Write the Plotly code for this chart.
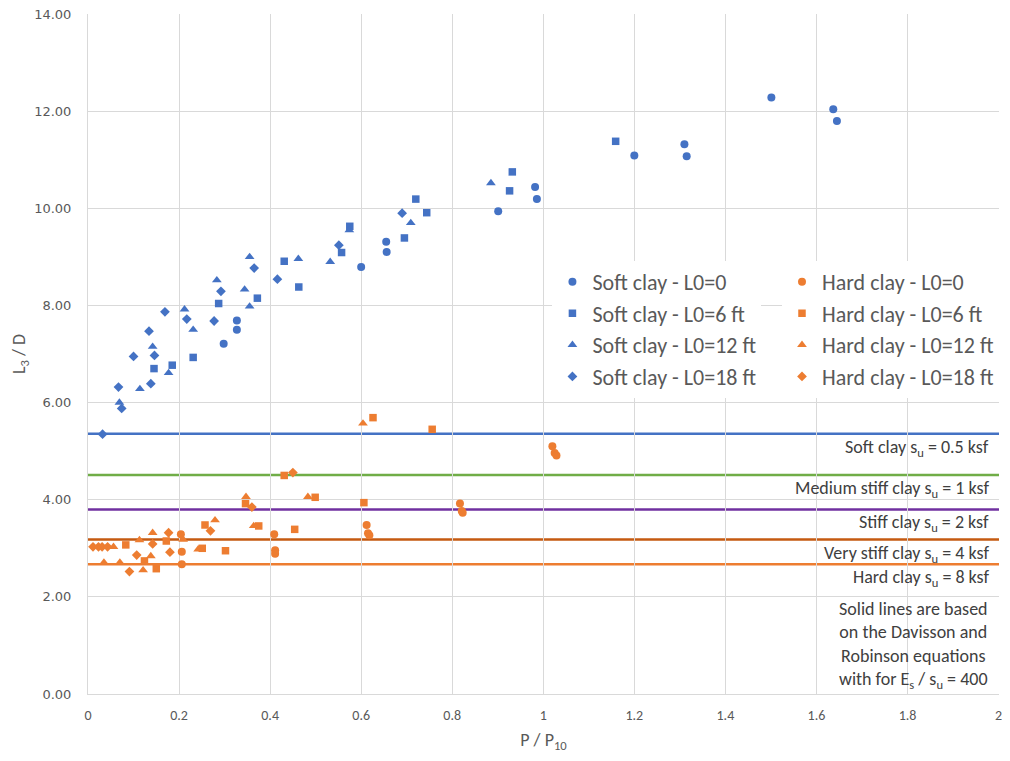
import plotly.graph_objects as go

# ---------------- data ----------------
soft_l0_x = [0.298, 0.327, 0.327, 0.600, 0.655, 0.656, 0.901, 0.982, 0.986, 1.200, 1.310, 1.315, 1.501, 1.637, 1.645]
soft_l0_y = [7.21, 7.69, 7.50, 8.79, 9.31, 9.10, 9.94, 10.44, 10.19, 11.09, 11.32, 11.07, 12.28, 12.04, 11.80]

soft_l6_x = [0.145, 0.185, 0.231, 0.287, 0.372, 0.431, 0.463, 0.557, 0.575, 0.695, 0.720, 0.744, 0.926, 0.932, 1.159]
soft_l6_y = [6.70, 6.77, 6.93, 8.04, 8.15, 8.91, 8.38, 9.09, 9.63, 9.39, 10.19, 9.91, 10.36, 10.75, 11.38]

soft_l12_x = [0.069, 0.114, 0.142, 0.177, 0.212, 0.231, 0.283, 0.344, 0.355, 0.355, 0.462, 0.532, 0.574, 0.709, 0.885]
soft_l12_y = [6.00, 6.28, 7.15, 6.61, 7.92, 7.50, 8.52, 8.33, 7.98, 9.00, 8.96, 8.90, 9.55, 9.70, 10.52]

soft_l18_x = [0.032, 0.074, 0.067, 0.138, 0.100, 0.146, 0.134, 0.169, 0.217, 0.277, 0.292, 0.365, 0.416, 0.551, 0.690]
soft_l18_y = [5.35, 5.88, 6.32, 6.39, 6.95, 6.97, 7.47, 7.87, 7.72, 7.68, 8.29, 8.77, 8.54, 9.24, 9.90]

hard_l0_x = [0.204, 0.206, 0.206, 0.409, 0.411, 0.411, 0.612, 0.615, 0.618, 0.817, 0.821, 0.823, 1.020, 1.025, 1.029]
hard_l0_y = [3.29, 2.93, 2.67, 3.29, 2.96, 2.89, 3.48, 3.31, 3.27, 3.92, 3.77, 3.73, 5.10, 4.96, 4.91]

hard_l6_x = [0.083, 0.124, 0.150, 0.172, 0.251, 0.257, 0.302, 0.346, 0.375, 0.431, 0.454, 0.499, 0.606, 0.626, 0.756]
hard_l6_y = [3.07, 2.74, 2.58, 3.15, 3.00, 3.48, 2.95, 3.92, 3.46, 4.50, 3.39, 4.05, 3.94, 5.69, 5.45]

hard_l12_x = [0.056, 0.035, 0.070, 0.113, 0.121, 0.138, 0.142, 0.209, 0.242, 0.279, 0.347, 0.364, 0.483, 0.604]
hard_l12_y = [3.03, 2.71, 2.71, 3.17, 2.55, 2.84, 3.32, 3.18, 2.98, 3.58, 4.06, 3.46, 4.06, 5.57]

hard_l18_x = [0.011, 0.023, 0.031, 0.043, 0.091, 0.107, 0.142, 0.177, 0.180, 0.269, 0.360, 0.450]
hard_l18_y = [3.03, 3.03, 3.03, 3.03, 2.52, 2.86, 3.09, 3.32, 2.92, 3.36, 3.85, 4.56]

level_values = [5.36, 4.51, 3.80, 3.18, 2.67]
level_colors = ["#4472C4", "#70AD47", "#7030A0", "#C55A11", "#ED7D31"]
level_labels = [
    "Soft clay s<sub>u</sub> = 0.5 ksf",
    "Medium stiff clay s<sub>u</sub> = 1 ksf",
    "Stiff clay s<sub>u</sub> = 2 ksf",
    "Very stiff clay s<sub>u</sub> = 4 ksf",
    "Hard clay s<sub>u</sub> = 8 ksf",
]
note_text = ("Solid lines are based<br>on the Davisson and<br>Robinson equations<br>"
             "with for E<sub>s</sub> / s<sub>u</sub> = 400")

x_ticks = [0, 0.2, 0.4, 0.6, 0.8, 1, 1.2, 1.4, 1.6, 1.8, 2]
x_tick_text = ["0", "0.2", "0.4", "0.6", "0.8", "1", "1.2", "1.4", "1.6", "1.8", "2"]

BLUE = "#4472C4"
ORANGE = "#ED7D31"
FONT = "Carlito, 'Liberation Sans Narrow', Roboto, sans-serif"

series = [
    ("Soft clay - L0=0", soft_l0_x, soft_l0_y, BLUE, "circle", 8, "legend"),
    ("Soft clay - L0=6 ft", soft_l6_x, soft_l6_y, BLUE, "square", 7.5, "legend"),
    ("Soft clay - L0=12 ft", soft_l12_x, soft_l12_y, BLUE, "triangle-up", 8.5, "legend"),
    ("Soft clay - L0=18 ft", soft_l18_x, soft_l18_y, BLUE, "diamond", 7.5, "legend"),
    ("Hard clay - L0=0", hard_l0_x, hard_l0_y, ORANGE, "circle", 8, "legend2"),
    ("Hard clay - L0=6 ft", hard_l6_x, hard_l6_y, ORANGE, "square", 7.5, "legend2"),
    ("Hard clay - L0=12 ft", hard_l12_x, hard_l12_y, ORANGE, "triangle-up", 8.5, "legend2"),
    ("Hard clay - L0=18 ft", hard_l18_x, hard_l18_y, ORANGE, "diamond", 7.5, "legend2"),
]

fig = go.Figure()

for v, c in zip(level_values, level_colors):
    fig.add_hline(y=v, line=dict(color=c, width=2.5), layer="below")

for name, xs, ys, col, sym, sz, lg in series:
    fig.add_trace(go.Scatter(
        x=xs, y=ys, mode="markers", name=name, legend=lg,
        marker=dict(color=col, symbol=sym, size=sz, line=dict(width=0)),
    ))

for v, lab in zip(level_values, level_labels):
    fig.add_annotation(
        x=1, xref="paper", y=v, yref="y", text=lab, showarrow=False,
        xanchor="right", yanchor="middle", xshift=-8, yshift=-14,
        font=dict(family=FONT, size=18, color="#404040"),
    )

fig.add_annotation(
    x=1, xref="paper", y=0, yref="paper", text=note_text, showarrow=False,
    xanchor="right", yanchor="bottom", align="center", xshift=-9, yshift=0,
    font=dict(family=FONT, size=18, color="#404040"),
)

legend_common = dict(
    bgcolor="white", borderwidth=0, yanchor="top", xanchor="left",
    font=dict(family=FONT, size=22, color="#595959"),
    tracegroupgap=0, itemsizing="trace", traceorder="normal",
)

# page body has an 8px default margin: figure is sized/offset to compensate
fig.update_layout(
    width=1002, height=745,
    margin=dict(l=80, r=11, t=6, b=59),
    paper_bgcolor="white", plot_bgcolor="white",
    font=dict(family=FONT, color="#595959"),
    showlegend=True,
    legend=dict(x=0.5098, y=0.637, **legend_common),
    legend2=dict(x=0.7618, y=0.637, **legend_common),
    xaxis=dict(
        range=[0, 2.001], tickvals=x_ticks, ticktext=x_tick_text,
        showgrid=True, gridcolor="#D9D9D9", gridwidth=1,
        zeroline=False, showline=True, linecolor="#D9D9D9", mirror=False,
        ticks="", automargin=False, ticklabelstandoff=8, ticklabeloverflow="allow",
        tickfont=dict(family=FONT, size=14, color="#595959"),
        title=dict(text="P / P<sub>10</sub>", font=dict(family=FONT, size=18, color="#595959"), standoff=11),
    ),
    yaxis=dict(
        range=[0, 14.001], dtick=2, tickformat=".2f",
        showgrid=True, gridcolor="#D9D9D9", gridwidth=1,
        zeroline=False, showline=True, linecolor="#D9D9D9",
        ticks="", automargin=False, ticklabelstandoff=13, ticklabeloverflow="allow",
        tickfont=dict(family="Verdana, 'DejaVu Sans', sans-serif", size=13, color="#595959"),
        title=dict(text="L<sub>3</sub> / D", font=dict(family=FONT, size=18, color="#595959"), standoff=6),
    ),
)

fig.write_html("out.html")
